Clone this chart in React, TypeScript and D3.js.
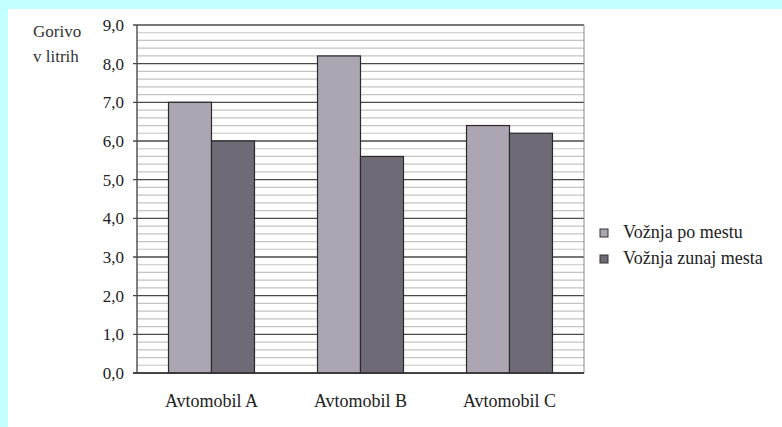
import React, { useEffect, useRef } from "react";
import * as d3 from "d3";

const categories = ["Avtomobil A", "Avtomobil B", "Avtomobil C"];
const seriesNames = ["Vožnja po mestu", "Vožnja zunaj mesta"];
const cityValues = [7.0, 8.2, 6.4];
const outsideValues = [6.0, 5.6, 6.2];
const yTicks = [0, 1, 2, 3, 4, 5, 6, 7, 8, 9];
const seriesColors = ["#aba6b1", "#6f6b76"];

const FONT = "'Liberation Serif', 'DejaVu Serif', serif";

export default function App() {
  const ref = useRef<SVGSVGElement>(null);
  useEffect(() => {
    const svg = d3.select(ref.current);
    svg.selectAll("*").remove();
    const W = 782, H = 427;
    const left = 137, right = 584, top = 25, bottom = 373;

    svg.append("rect").attr("width", W).attr("height", H).attr("fill", "#ffffff");
    svg.append("rect").attr("x", 0).attr("y", 0).attr("width", W).attr("height", 9).attr("fill", "#c4ffff");
    svg.append("rect").attr("x", 0).attr("y", 0).attr("width", 8).attr("height", H).attr("fill", "#c4ffff");

    const y = d3.scaleLinear().domain([0, 9]).range([bottom, top]);
    const x0 = d3.scaleBand<string>().domain(categories).range([left, right]).padding(0);
    const x1 = d3.scaleBand<string>().domain(seriesNames).range([0, x0.bandwidth()]).paddingInner(0).paddingOuter(0.733);

    const minor = d3.range(0, 9.001, 0.2).filter((v) => Math.abs(v - Math.round(v)) > 0.01);
    svg.append("g").selectAll("line").data(minor).join("line")
      .attr("x1", left).attr("x2", right)
      .attr("y1", (d) => y(d)).attr("y2", (d) => y(d))
      .attr("stroke", "#c4c4c4").attr("stroke-width", 1.2);
    svg.append("g").selectAll("line").data(yTicks).join("line")
      .attr("x1", left - 4).attr("x2", right)
      .attr("y1", (d) => y(d)).attr("y2", (d) => y(d))
      .attr("stroke", "#4a4a4a").attr("stroke-width", 1.4);
    svg.append("line").attr("x1", right).attr("x2", right).attr("y1", top).attr("y2", bottom)
      .attr("stroke", "#8a8a8a").attr("stroke-width", 1);

    svg.append("g").selectAll("text").data(yTicks).join("text")
      .attr("x", 124).attr("y", (d) => y(d)).attr("dy", "0.35em")
      .attr("text-anchor", "end")
      .style("font-family", FONT).attr("font-size", 17).attr("fill", "#222")
      .text((d) => d.toFixed(1).replace(".", ","));

    const rows = categories.map((c, i) => ({ c, vals: [cityValues[i], outsideValues[i]] }));
    const g = svg.append("g");
    rows.forEach((r) => {
      r.vals.forEach((v, j) => {
        g.append("rect")
          .attr("x", (x0(r.c) as number) + (x1(seriesNames[j]) as number))
          .attr("y", y(v))
          .attr("width", x1.bandwidth())
          .attr("height", bottom - y(v))
          .attr("fill", seriesColors[j])
          .attr("stroke", "#2a2a2a").attr("stroke-width", 1.2);
      });
    });

    svg.append("line").attr("x1", left).attr("x2", left).attr("y1", top).attr("y2", bottom)
      .attr("stroke", "#4a4a4a").attr("stroke-width", 1.4);
    svg.append("line").attr("x1", left - 4).attr("x2", right).attr("y1", bottom).attr("y2", bottom)
      .attr("stroke", "#333").attr("stroke-width", 1.6);

    svg.append("g").selectAll("text").data(categories).join("text")
      .attr("x", (d) => (x0(d) as number) + x0.bandwidth() / 2)
      .attr("y", 407)
      .attr("text-anchor", "middle")
      .style("font-family", FONT).attr("font-size", 18).attr("fill", "#222")
      .text((d) => d);

    const t = svg.append("text").style("font-family", FONT).attr("font-size", 17).attr("fill", "#333");
    t.append("tspan").attr("x", 33).attr("y", 37).text("Gorivo");
    t.append("tspan").attr("x", 33).attr("y", 62).text("v litrih");

    const lg = svg.append("g");
    seriesNames.forEach((s, i) => {
      lg.append("rect").attr("x", 600).attr("y", 229 + i * 26).attr("width", 8).attr("height", 8)
        .attr("fill", seriesColors[i]).attr("stroke", "#333").attr("stroke-width", 1);
      lg.append("text").attr("x", 623).attr("y", 238 + i * 26)
        .style("font-family", FONT).attr("font-size", 18).attr("fill", "#222")
        .text(s);
    });
  }, []);
  return (
    <svg ref={ref} width={782} height={427} style={{ position: "absolute", left: 0, top: 0 }} />
  );
}
